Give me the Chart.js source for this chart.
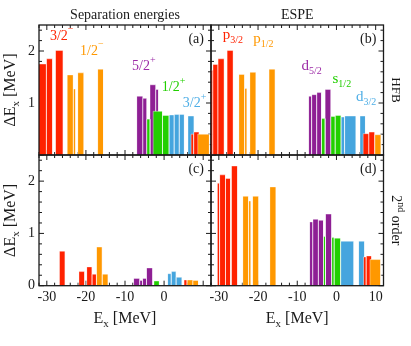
<!DOCTYPE html>
<html>
<head>
<meta charset="utf-8">
<script src="https://cdn.jsdelivr.net/npm/chart.js@4.4.0/dist/chart.umd.min.js"></script>
<style>
  html, body { margin: 0; padding: 0; background: #fff; }
  #wrap { position: relative; width: 411px; height: 346px; }
  #wrap canvas { position: absolute; left: 0; top: 0; }
</style>
</head>
<body>
<div id="wrap">
  <canvas id="pa" width="411" height="346"></canvas>
  <canvas id="pb" width="411" height="346"></canvas>
  <canvas id="pc" width="411" height="346"></canvas>
  <canvas id="pd" width="411" height="346"></canvas>
</div>
<script>
// axis ranges and tick labels (MeV)
const xMin = -32, xMax = 12;
const yMin = 0, yMax = 2.5;
const xTickLabels = [-30, -20, -10, 0, 10];
const yTickLabels = [0, 1, 2];

// each bar: [E low, E high, dE]
// (a) separation energies, HFB
const sepHfbP32 = [[-33, -30.1, 1.75], [-30.1, -28.5, 1.85], [-27.8, -25.8, 2.01]];
const sepHfbP12 = [[-24.8, -23.2, 1.54], [-23.2, -22.6, 1.27], [-22.1, -20.5, 1.58], [-17.0, -15.5, 1.65]];
const sepHfbD52 = [[-7.0, -5.4, 1.13], [-5.4, -4.4, 1.09], [-3.6, -2.1, 1.35], [-2.1, -1.4, 1.26]];
const sepHfbS12 = [[-4.4, -3.6, 0.69], [-2.8, -0.4, 0.84], [-0.4, 1.3, 0.76]];
const sepHfbD32 = [[1.3, 2.6, 0.77], [2.6, 3.9, 0.78], [3.9, 5.2, 0.78], [6.1, 7.7, 0.75]];
const sepHfbF72 = [[6.9, 7.6, 0.40], [7.6, 9.0, 0.44]];
const sepHfbP32b = [[8.6, 11.6, 0.40]];

// (b) ESPE, HFB
const espeHfbP32 = [[-33, -31.5, 1.63], [-31.5, -30.2, 1.74], [-30.2, -28.6, 1.85], [-27.9, -26.3, 2.01]];
const espeHfbP12 = [[-24.9, -23.4, 1.55], [-23.4, -22.8, 1.28], [-22.1, -20.5, 1.59], [-17.2, -15.6, 1.65]];
const espeHfbD52 = [[-7.1, -6.3, 1.13], [-6.3, -5.0, 1.16], [-5.0, -3.8, 1.20], [-2.9, -1.4, 1.26]];
const espeHfbS12 = [[-3.8, -2.9, 0.70], [-1.4, -0.3, 0.74], [-0.3, 1.2, 0.76]];
const espeHfbD32 = [[1.2, 2.1, 0.73], [2.1, 5.0, 0.75], [6.0, 7.4, 0.75]];
const espeHfbF72 = [[6.8, 8.3, 0.41], [8.3, 9.8, 0.44]];
const espeHfbP32b = [[9.8, 11.4, 0.39]];

// (c) separation energies, 2nd order
const sep2ndP32 = [[-26.8, -25.3, 0.66], [-21.8, -20.3, 0.27], [-19.8, -18.4, 0.36], [-18.4, -17.3, 0.22]];
const sep2ndP12 = [[-17.3, -15.8, 0.74], [-15.8, -14.3, 0.22]];
const sep2ndD52 = [[-7.8, -6.2, 0.14], [-6.2, -5.5, 0.10], [-5.5, -4.5, 0.14], [-4.5, -2.9, 0.34]];
const sep2ndS12 = [[-2.6, -1.2, 0.09]];
const sep2ndD32 = [[0.9, 1.85, 0.23], [1.85, 3.1, 0.27], [3.1, 4.6, 0.16]];
const sep2ndF72 = [[5.1, 5.9, 0.11]];
const sep2ndP32b = [[5.9, 7.4, 0.11], [7.4, 8.8, 0.10]];

// (d) ESPE, 2nd order
const espe2ndP32 = [[-30.4, -29.8, 1.96], [-29.8, -28.3, 2.12], [-28.3, -27.0, 2.05], [-26.8, -25.2, 2.29]];
const espe2ndP12 = [[-23.9, -22.4, 1.71], [-22.4, -21.8, 1.62], [-21.4, -19.8, 1.71], [-17.0, -15.4, 1.89]];
const espe2ndD52 = [[-6.85, -6.0, 1.22], [-6.0, -4.6, 1.27], [-4.6, -3.3, 1.25], [-2.8, -1.2, 1.37]];
const espe2ndS12 = [[-3.3, -2.8, 0.94], [-1.2, -0.56, 0.92], [-0.56, 1.1, 0.91]];
const espe2ndD32 = [[1.1, 4.45, 0.85], [5.65, 7.2, 0.85]];
const espe2ndF72 = [[6.9, 7.6, 0.55], [7.6, 9.0, 0.57]];
const espe2ndP32b = [[8.55, 11.3, 0.50]];

const SERIF = '"Liberation Serif", "DejaVu Serif", serif';
const RED = '#ff2200', ORANGE = '#ff9800', PURPLE = '#8e1f94', GREEN = '#22cf00', BLUE = '#45a5de';
const INK = '#1a1a1a';
const Y_AXIS_W = 30, X_AXIS_H = 25;

// one filled step outline per bar, later bars on top
const barSets = (groups) => {
  const sets = [];
  groups.forEach(([bars, color]) => {
    bars.forEach(([lo, hi, h]) => {
      sets.push({
        data: [{x: lo, y: 0}, {x: lo, y: h}, {x: hi, y: h}, {x: hi, y: 0}],
        backgroundColor: color,
        borderColor: 'rgba(255,255,255,0.4)',
        borderWidth: 1,
        fill: 'origin',
        pointRadius: 0,
        tension: 0,
        order: -sets.length
      });
    });
  });
  return sets;
};

// text with sub/superscripts: parts = [[text, size, dy], ...]
const richText = (ctx, x, y, parts, align) => {
  let w = 0;
  parts.forEach(p => { ctx.font = p[1] + 'px ' + SERIF; w += ctx.measureText(p[0]).width; });
  let cx = align === 'right' ? x - w : align === 'center' ? x - w / 2 : x;
  ctx.textAlign = 'left';
  ctx.textBaseline = 'alphabetic';
  parts.forEach(p => {
    ctx.font = p[1] + 'px ' + SERIF;
    ctx.fillText(p[0], cx, y + (p[2] || 0));
    cx += ctx.measureText(p[0]).width;
  });
};

const decoPlugin = (panel) => ({
  id: 'deco',
  beforeDatasetsDraw(chart) {
    const {ctx, chartArea: a, scales: {x, y}} = chart;
    ctx.save();
    ctx.strokeStyle = INK;
    ctx.lineWidth = 1;
    ctx.beginPath();
    for (let v = -32; v <= 12; v += 2) {
      const px = x.getPixelForValue(v);
      const len = v % 10 === 0 ? 5 : 3;
      ctx.moveTo(px, a.bottom); ctx.lineTo(px, a.bottom - len);
      ctx.moveTo(px, a.top); ctx.lineTo(px, a.top + len);
    }
    for (let i = 0; i <= 12; i++) {
      const py = y.getPixelForValue(i * 0.2);
      const len = i % 5 === 0 ? 5 : 3;
      ctx.moveTo(a.left, py); ctx.lineTo(a.left + len, py);
      ctx.moveTo(a.right, py); ctx.lineTo(a.right - len, py);
    }
    ctx.stroke();
    ctx.restore();
  },
  afterDatasetsDraw(chart) {
    const {ctx, chartArea: a, scales: {x, y}} = chart;
    ctx.save();
    ctx.strokeStyle = INK;
    ctx.lineWidth = 1.3;
    ctx.strokeRect(a.left, a.top, a.right - a.left, a.bottom - a.top);

    panel.labels.forEach(l => {
      ctx.fillStyle = l.color;
      richText(ctx, x.getPixelForValue(l.x), y.getPixelForValue(l.y), l.parts, l.align);
    });

    ctx.fillStyle = INK;
    richText(ctx, x.getPixelForValue(10.2), y.getPixelForValue(2.16), [[panel.tag, 14]], 'right');

    const cx = (a.left + a.right) / 2, cy = (a.top + a.bottom) / 2;
    if (panel.title) richText(ctx, cx, a.top - 6.5, [[panel.title, 14]], 'center');
    if (panel.yTitle) {
      ctx.save();
      ctx.translate(a.left - 24.5, cy);
      ctx.rotate(-Math.PI / 2);
      richText(ctx, 0, 0, [['\u0394E', 16], ['x', 11, 4], [' [MeV]', 16]], 'center');
      ctx.restore();
    }
    if (panel.xTitle) richText(ctx, cx, 323, [['E', 16], ['x', 11, 4], [' [MeV]', 16]], 'center');
    if (panel.side) {
      ctx.save();
      ctx.translate(a.right + 8, cy);
      ctx.rotate(Math.PI / 2);
      richText(ctx, 0, 0, panel.side, 'center');
      ctx.restore();
    }
    ctx.restore();
  }
});

const makePanel = (id, area, groups, panel, showX, showY) => {
  const tickFont = {family: SERIF, size: 14};
  return new Chart(document.getElementById(id), {
    type: 'line',
    data: {datasets: barSets(groups)},
    options: {
      responsive: false,
      animation: false,
      events: [],
      layout: {padding: {
        left: area[0] - Y_AXIS_W, right: 411 - area[1],
        top: area[2], bottom: 346 - area[3] - X_AXIS_H
      }},
      plugins: {legend: {display: false}, tooltip: {enabled: false}},
      scales: {
        x: {
          type: 'linear', min: xMin, max: xMax,
          grid: {display: false, drawTicks: false}, border: {display: false},
          ticks: {display: showX, stepSize: 10, includeBounds: false, autoSkip: false, maxRotation: 0,
                  padding: 3, color: INK, font: tickFont,
                  callback: v => panel.xShown.includes(v) ? String(v) : ''},
          afterFit: s => { s.height = X_AXIS_H; }
        },
        y: {
          type: 'linear', min: yMin, max: yMax,
          grid: {display: false, drawTicks: false}, border: {display: false},
          ticks: {display: showY, stepSize: 1, includeBounds: false, padding: 4, color: INK, font: tickFont,
                  callback: v => panel.yShown.includes(v) ? String(v) : ''},
          afterFit: s => { s.width = Y_AXIS_W; }
        }
      }
    },
    plugins: [decoPlugin(panel)]
  });
};

const sup = (t, dy) => [t, 10, dy];
const sub = (t) => [t, 10, 4];

makePanel('pa', [39, 211, 25, 155], [
  [sepHfbP32, RED], [sepHfbP12, ORANGE], [sepHfbD52, PURPLE], [sepHfbS12, GREEN],
  [sepHfbD32, BLUE], [sepHfbF72, RED], [sepHfbP32b, ORANGE]
], {
  tag: '(a)', title: 'Separation energies', yTitle: true, xShown: [], yShown: [1, 2],
  labels: [
    {x: -29.2, y: 2.21, color: RED, parts: [['3/2', 14], sup('\u2212', -8)]},
    {x: -21.5, y: 1.92, color: ORANGE, parts: [['1/2', 14], sup('\u2212', -8)]},
    {x: -8.2, y: 1.63, color: '#9c2aa6', parts: [['5/2', 14], sup('+', -7)]},
    {x: -0.6, y: 1.23, color: GREEN, parts: [['1/2', 14], sup('+', -7)]},
    {x: 4.8, y: 0.92, color: '#4eaee6', parts: [['3/2', 14], sup('+', -7)]}
  ]
}, false, true);

makePanel('pb', [211, 383.5, 25, 155], [
  [espeHfbP32, RED], [espeHfbP12, ORANGE], [espeHfbD52, PURPLE], [espeHfbS12, GREEN],
  [espeHfbD32, BLUE], [espeHfbF72, RED], [espeHfbP32b, ORANGE]
], {
  tag: '(b)', title: 'ESPE', side: [['HFB', 13]], xShown: [], yShown: [],
  labels: [
    {x: -29.0, y: 2.24, color: RED, parts: [['p', 15], sub('3/2')]},
    {x: -21.2, y: 2.16, color: ORANGE, parts: [['p', 15], sub('1/2')]},
    {x: -8.9, y: 1.63, color: '#9c2aa6', parts: [['d', 15], sub('5/2')]},
    {x: -1.0, y: 1.38, color: GREEN, parts: [['s', 15], sub('1/2')]},
    {x: 5.0, y: 1.03, color: '#4eaee6', parts: [['d', 15], sub('3/2')]}
  ]
}, false, false);

makePanel('pc', [39, 211, 155, 285.7], [
  [sep2ndP32, RED], [sep2ndP12, ORANGE], [sep2ndD52, PURPLE], [sep2ndS12, GREEN],
  [sep2ndD32, BLUE], [sep2ndF72, RED], [sep2ndP32b, ORANGE]
], {tag: '(c)', yTitle: true, xTitle: true, xShown: xTickLabels.slice(0, 4), yShown: yTickLabels, labels: []}, true, true);

makePanel('pd', [211, 383.5, 155, 285.7], [
  [espe2ndP32, RED], [espe2ndP12, ORANGE], [espe2ndD52, PURPLE], [espe2ndS12, GREEN],
  [espe2ndD32, BLUE], [espe2ndF72, RED], [espe2ndP32b, ORANGE]
], {tag: '(d)', xTitle: true, side: [['2', 14], ['nd', 10, -6], [' order', 14]], xShown: xTickLabels, yShown: [], labels: []}, true, false);
</script>
</body>
</html>
